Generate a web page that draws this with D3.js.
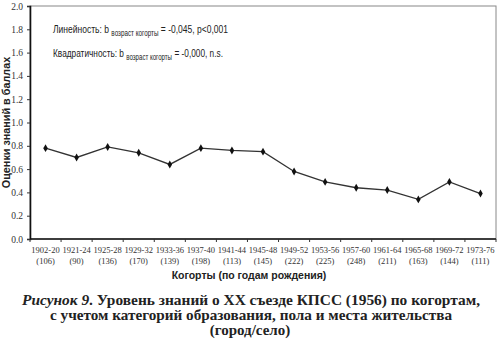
<!DOCTYPE html>
<html>
<head>
<meta charset="utf-8">
<script src="https://cdn.jsdelivr.net/npm/d3@7"></script>
<style>
  html, body { margin: 0; padding: 0; background: #fff; }
  svg { display: block; }
  .note { white-space: pre; }
</style>
</head>
<body>
<svg id="chart" width="500" height="340"></svg>
<script>
// Birth cohorts, sample sizes and mean knowledge scores
const cohorts = ["1902-20","1921-24","1925-28","1929-32","1933-36","1937-40","1941-44","1945-48",
                 "1949-52","1953-56","1957-60","1961-64","1965-68","1969-72","1973-76"];
const sampleSizes = [106, 90, 136, 170, 139, 198, 113, 145, 222, 225, 248, 211, 163, 144, 111];
const scores = [0.78, 0.70, 0.79, 0.74, 0.64, 0.78, 0.76, 0.75, 0.58, 0.49, 0.44, 0.42, 0.34, 0.49, 0.39];
const yTicks = [0.0, 0.2, 0.4, 0.6, 0.8, 1.0, 1.2, 1.4, 1.6, 1.8, 2.0];

(function draw() {
  const svg = d3.select("#chart");
  const plotLeft = 30, plotRight = 496, plotTop = 6, plotBottom = 239;

  const x = d3.scaleBand().domain(cohorts).range([plotLeft, plotRight]).padding(0);
  const y = d3.scaleLinear().domain([0, 2]).range([plotBottom, plotTop]);
  const cx = d => x(d) + x.bandwidth() / 2;

  const serif = "'Liberation Serif', 'Times New Roman', serif";
  const sans = "'Liberation Sans', Arial, sans-serif";

  // plot frame
  svg.append("rect")
    .attr("x", plotLeft).attr("y", plotTop)
    .attr("width", plotRight - plotLeft).attr("height", plotBottom - plotTop)
    .attr("fill", "none").attr("stroke", "#888").attr("stroke-width", 1);

  // y axis
  const yAxis = svg.append("g")
    .attr("transform", `translate(${plotLeft},0)`)
    .call(d3.axisLeft(y).tickValues(yTicks).tickSize(3).tickFormat(d3.format(".1f")));
  yAxis.select(".domain").attr("stroke", "#111").attr("stroke-width", 1.6);
  yAxis.selectAll(".tick line").attr("stroke", "#333");
  yAxis.selectAll("text")
    .attr("font-family", serif).attr("font-size", 9.5).attr("fill", "#333")
    .attr("x", -7);

  // x axis with boundary ticks between cohorts
  const xAxisG = svg.append("g").attr("transform", `translate(0,${plotBottom})`);
  xAxisG.append("line")
    .attr("x1", plotLeft).attr("x2", plotRight).attr("y1", 0).attr("y2", 0)
    .attr("stroke", "#111").attr("stroke-width", 1.6);
  xAxisG.selectAll("line.tk")
    .data(cohorts.concat(["end"]))
    .join("line").attr("class", "tk")
    .attr("x1", (d, i) => i < cohorts.length ? x(d) : plotRight)
    .attr("x2", (d, i) => i < cohorts.length ? x(d) : plotRight)
    .attr("y1", 0).attr("y2", 3)
    .attr("stroke", "#333");

  const labels = xAxisG.selectAll("text.cat")
    .data(cohorts)
    .join("text").attr("class", "cat")
    .attr("text-anchor", "middle")
    .attr("font-family", serif).attr("font-size", 8.5).attr("fill", "#333");
  labels.append("tspan").attr("x", cx).attr("y", 14).text(d => d);
  labels.append("tspan").attr("x", cx).attr("y", 25)
    .text((d, i) => `(${sampleSizes[i]})`);

  // score line with markers
  const line = d3.line()
    .x((d, i) => cx(cohorts[i]))
    .y(d => y(d));
  svg.append("path")
    .datum(scores)
    .attr("d", line)
    .attr("fill", "none").attr("stroke", "#333").attr("stroke-width", 1.3);

  svg.selectAll("path.pt")
    .data(scores)
    .join("path").attr("class", "pt")
    .attr("transform", (d, i) => `translate(${cx(cohorts[i])},${y(d)})`)
    .attr("d", d3.symbol(d3.symbolDiamond, 18))
    .attr("fill", "#111");

  // regression annotations: condensed sans, laid out piece by piece
  const notes = [
    { parts: [["Линейность: b ", 11.5, 0], ["возраст когорты", 8.5, 3], [" = -0,045, p<0,001", 11.5, 0]], y: 33, w: 175 },
    { parts: [["Квадратичность: b ", 11.5, 0], ["возраст когорты", 8.5, 3], [" = -0,000, n.s.", 11.5, 0]], y: 57, w: 170 }
  ];
  notes.forEach(n => {
    const g = svg.append("g");
    let cursor = 0;
    n.parts.forEach(([txt, size, dy]) => {
      const t = g.append("text").attr("class", "note")
        .attr("x", cursor).attr("y", dy)
        .attr("font-family", sans).attr("font-size", size).attr("fill", "#222")
        .text(txt);
      cursor += t.node().getComputedTextLength();
    });
    g.attr("transform", `translate(53,${n.y}) scale(${n.w / cursor},1)`);
  });

  // axis titles
  svg.append("text")
    .attr("transform", `translate(10,${(plotTop + plotBottom) / 2}) rotate(-90)`)
    .attr("text-anchor", "middle")
    .attr("font-family", sans).attr("font-weight", "bold").attr("font-size", 10.8).attr("fill", "#222")
    .text("Оценки знаний в баллах");

  svg.append("text")
    .attr("x", 249).attr("y", 279)
    .attr("text-anchor", "middle")
    .attr("font-family", sans).attr("font-weight", "bold").attr("font-size", 10.5).attr("fill", "#222")
    .text("Когорты (по годам рождения)");

  // figure caption
  const cap = svg.append("g")
    .attr("font-family", serif).attr("font-weight", "bold").attr("font-size", 15).attr("fill", "#222")
    .attr("text-anchor", "middle");
  const c1 = cap.append("text").attr("x", 251).attr("y", 305)
    .attr("textLength", 458).attr("lengthAdjust", "spacingAndGlyphs");
  c1.append("tspan").attr("font-style", "italic").text("Рисунок 9");
  c1.append("tspan").text(". Уровень знаний о XX съезде КПСС (1956) по когортам,");
  cap.append("text").attr("x", 251).attr("y", 320)
    .attr("textLength", 402).attr("lengthAdjust", "spacingAndGlyphs")
    .text("с учетом категорий образования, пола и места жительства");
  cap.append("text").attr("x", 250).attr("y", 335).text("(город/село)");
})();
</script>
</body>
</html>
